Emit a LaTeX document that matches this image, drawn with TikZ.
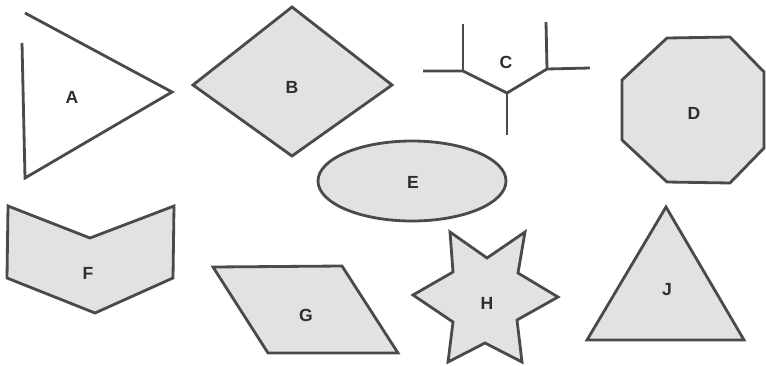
\documentclass[tikz,border=0pt]{standalone}
\usepackage{fontspec}
\setmainfont{Liberation Sans}
\definecolor{linegray}{HTML}{4A4A4A}
\definecolor{fillgray}{HTML}{E2E2E2}
\definecolor{textgray}{HTML}{2E2E2E}

\begin{document}
\begin{tikzpicture}[x=0.02cm, y=-0.02cm]
% Styles:
\tikzset{outline/.style={draw=linegray, line width=1.6pt}}
\tikzset{filled/.style={outline, fill=fillgray}}
\tikzset{lbl/.style={text=textgray, font=\bfseries\fontsize{10}{12}\selectfont}}

\useasboundingbox (0,0) rectangle (766,365);

% Upper row:
\draw[outline, fill=white] (25,13) -- (172,92) -- (25,178) -- (22,43);
\node[lbl] (a) at (72,97) {A};

\draw[filled] (193,85) -- (292,7) -- (392,85) -- (292,156) -- cycle;
\node[lbl] (b) at (292,87) {B};

\draw[outline] (423,71) -- (463,71) -- (507,93) -- (547,69) -- (590,68);
\draw[outline] (463,71) -- (463,24);
\draw[outline] (547,69) -- (546,22);
\draw[outline] (507,93) -- (507,135);
\node[lbl] (c) at (506,62) {C};

\draw[filled] (667,38) -- (730,37) -- (764,72) -- (764,148) -- (730,183)
  -- (667,182) -- (622,140) -- (622,80) -- cycle;
\node[lbl] (d) at (694,113) {D};

% Middle:
\draw[filled] (412,181) ellipse [x radius=94, y radius=40];
\node[lbl] (e) at (413,182) {E};

% Lower row:
\draw[filled] (8,206) -- (90,238) -- (174,206) -- (173,278) -- (95,313)
  -- (7,278) -- cycle;
\node[lbl] (f) at (88,273) {F};

\draw[filled] (213,267) -- (342,266) -- (398,353) -- (268,353) -- cycle;
\node[lbl] (g) at (306,315) {G};

\draw[filled] (450,232) -- (487,258) -- (525,232) -- (518,273) -- (558,297)
  -- (517,320) -- (522,362) -- (485,343) -- (448,362) -- (453,322)
  -- (413,295) -- (453,272) -- cycle;
\node[lbl] (h) at (487,303) {H};

\draw[filled] (666,207) -- (744,340) -- (587,340) -- cycle;
\node[lbl] (j) at (667,290) {J};
\end{tikzpicture}
\end{document}
